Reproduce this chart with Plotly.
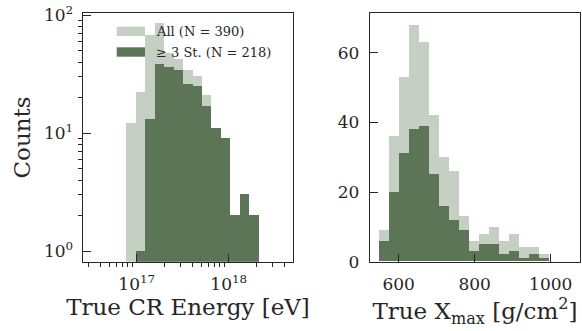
import numpy as np
import plotly.graph_objects as go

# ---------------- data ----------------
# Left panel: energy histogram (log10 of bin edges in eV)
energy_edges_log10 = np.linspace(16.884, 18.323, 15)
energy_all = [12, 22, 68, 85, 47, 42, 34, 30, 21, 11, 9, 2, 3, 2]
energy_3st = [0, 1, 13, 38, 36, 34, 26, 25, 17, 11, 9, 2, 3, 2]

# Right panel: Xmax histogram (g/cm^2 bin edges)
xmax_edges = np.linspace(549, 996, 18)
xmax_all = [9, 36, 53, 68, 63, 42, 30, 26, 13, 6, 8, 10, 6, 8, 4, 4, 2]
xmax_3st = [6, 20, 31, 38, 39, 25, 16, 12, 9, 3, 5, 5, 2, 3, 1, 2, 1]

label_all = "All (N = 390)"
label_3st = "≥ 3 St. (N = 218)"

energy_major_log10 = [17, 18]
energy_major_text = ["10<sup>17</sup>", "10<sup>18</sup>"]
count_major = [1, 10, 100]
count_major_text = ["10<sup>0</sup>", "10<sup>1</sup>", "10<sup>2</sup>"]
xmax_ticks = [600, 800, 1000]
lin_count_ticks = [0, 20, 40, 60]

# ---------------- style ----------------
LIGHT = "#c5cfc4"
DARK = "#5b7556"
AX = "#262626"
FONT = "DejaVu Serif"

e_lo = energy_edges_log10[:-1]
e_hi = energy_edges_log10[1:]
e_mid = (e_lo + e_hi) / 2
e_w = e_hi - e_lo

x_lo = xmax_edges[:-1]
x_hi = xmax_edges[1:]
x_mid = (x_lo + x_hi) / 2
x_w = x_hi - x_lo

fig = go.Figure()
fig.add_trace(go.Bar(x=e_mid, y=energy_all, width=e_w, marker=dict(color=LIGHT, line=dict(width=0)),
                     name=label_all, xaxis="x", yaxis="y", showlegend=False))
fig.add_trace(go.Bar(x=e_mid, y=energy_3st, width=e_w, marker=dict(color=DARK, line=dict(width=0)),
                     name=label_3st, xaxis="x", yaxis="y", showlegend=False))
fig.add_trace(go.Bar(x=x_mid, y=xmax_all, width=x_w, marker=dict(color=LIGHT, line=dict(width=0)),
                     name=label_all, xaxis="x2", yaxis="y2", showlegend=False))
fig.add_trace(go.Bar(x=x_mid, y=xmax_3st, width=x_w, marker=dict(color=DARK, line=dict(width=0)),
                     name=label_3st, xaxis="x2", yaxis="y2", showlegend=False))

minor_e = [float(np.log10(m * 10.0 ** d)) for d in (16, 17, 18) for m in range(2, 10)]
minor_c = [m * 10 ** d for d in (0, 1) for m in range(2, 10)]

common = dict(showline=True, linecolor=AX, linewidth=1.4, mirror=True, showgrid=False, zeroline=False,
              ticks="inside", ticklen=8, tickwidth=1.4, tickcolor=AX, automargin=False,
              tickfont=dict(family=FONT, size=17, color=AX))

ydom = [1 - 261.7 / 331, 1 - 13.3 / 331]
TITLE_FONT = dict(family=FONT, size=23, color=AX)

fig.update_layout(
    width=582, height=331,
    margin=dict(l=0, r=0, t=0, b=0, autoexpand=False),
    paper_bgcolor="white", plot_bgcolor="white",
    barmode="overlay", bargap=0,
    font=dict(family=FONT, color=AX),
    xaxis=dict(domain=[82.7 / 582, 293.3 / 582], range=[16.413, 18.702],
               anchor="y", tickvals=energy_major_log10, ticktext=energy_major_text,
               minor=dict(tickvals=minor_e, ticks="outside", ticklen=4, tickwidth=1.1, tickcolor=AX),
               title=dict(text="True CR Energy [eV]", font=TITLE_FONT, standoff=5),
               ticklabelstandoff=7, **common),
    yaxis=dict(type="log", domain=ydom, range=[-0.09, 2.015], anchor="x",
               tickvals=count_major, ticktext=count_major_text,
               minor=dict(tickvals=minor_c, ticks="outside", ticklen=4, tickwidth=1.1, tickcolor=AX),
               title=dict(text="Counts", font=TITLE_FONT, standoff=6),
               ticklabelstandoff=5, **common),
    xaxis2=dict(domain=[370 / 582, 580 / 582], range=[524.5, 1077], anchor="y2",
                tickvals=xmax_ticks,
                title=dict(text="True X<sub>max</sub> [g/cm<sup>2</sup>]", font=dict(family=FONT, size=23, color=AX), standoff=0),
                ticklabelstandoff=7, **common),
    yaxis2=dict(domain=ydom, range=[0, 71.3], anchor="x2", tickvals=lin_count_ticks,
                ticklabelstandoff=6, **common),
)

# legend drawn as patches + text in the left panel
leg_items = [(label_all, LIGHT, 26.7, 36.0), (label_3st, DARK, 47.3, 56.7)]
for text, col, y0, y1 in leg_items:
    fig.add_shape(type="rect", xref="paper", yref="paper",
                  x0=116.7 / 582, x1=145 / 582, y0=1 - y1 / 331, y1=1 - y0 / 331,
                  fillcolor=col, line=dict(width=0), layer="above")
    fig.add_annotation(xref="paper", yref="paper", x=154 / 582, y=1 - (y0 + y1) / 2 / 331,
                       text=text, showarrow=False, xanchor="left", yanchor="middle",
                       font=dict(family=FONT, size=13, color=AX))

fig.write_html("out.html", config={"displayModeBar": False},
               post_script="document.body.style.margin='0';document.body.style.padding='0';")
